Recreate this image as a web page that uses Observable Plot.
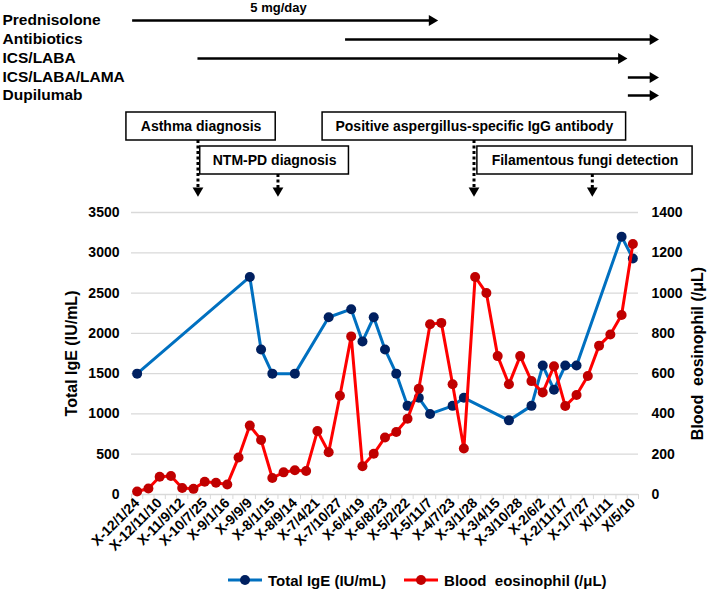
<!DOCTYPE html>
<html><head><meta charset="utf-8">
<script src="https://cdn.jsdelivr.net/npm/d3@7"></script>
<script src="https://cdn.jsdelivr.net/npm/@observablehq/plot@0.6"></script>
<style>
body{margin:0;background:#fff;font-family:"Liberation Sans",Arial,sans-serif;}
#chart{width:709px;}
svg{display:block;}
.legend{display:flex;align-items:center;height:24px;padding-left:228px;font-weight:bold;font-size:15px;white-space:pre;}
.legend .item{display:flex;align-items:center;}
</style></head><body><div id="chart"></div>
<script>
// ---- data ----
const xLabels = ["X-12/1/24","X-12/11/10","X-11/9/12","X-10/7/25","X-9/1/16","X-9/9/9","X-8/1/15","X-8/9/14","X-7/4/21","X-7/10/27","X-6/4/19","X-6/8/23","X-5/2/22","X-5/11/7","X-4/7/23","X-3/1/28","X-3/4/15","X-3/10/28","X-2/6/2","X-2/11/17","X-1/7/27","X/1/11","X/5/10"];
// Blood eosinophil (/µL) at each of the 45 visits
const eosVals = [15,30,88,92,32,28,63,58,50,184,342,271,82,110,120,117,315,210,490,785,140,202,283,310,376,525,845,852,547,228,1080,1000,687,547,687,563,506,637,439,494,588,739,794,891,1244];
// Total IgE (IU/mL): visit index and value
const igeIdx = [0,10,11,12,14,17,19,20,21,22,23,24,25,26,28,29,33,35,36,37,38,39,43,44];
const igeVals = [1500,2700,1800,1500,1500,2200,2300,1900,2200,1800,1500,1100,1200,1000,1100,1200,920,1100,1600,1300,1600,1600,3200,2930];
// treatments (start / end in visit units)
const treatments = ["Prednisolone","Antibiotics","ICS/LABA","ICS/LABA/LAMA","Dupilumab"];
const treatStart = [-0.4, 18.5, 5.4, 43.6, 43.6];
const treatEnd = [26.7, 46.3, 43.5, 46.3, 46.3];
const prednisoloneDose = "5 mg/day";
// events (visit position of each event)
const eventNames = ["Asthma diagnosis","NTM-PD diagnosis","Positive aspergillus-specific IgG antibody","Filamentous fungi detection"];
const eventIdx = [5.4, 12.5, 29.9, 40.4];
const seriesNames = ["Total IgE (IU/mL)", "Blood\u00a0 eosinophil (/\u03bcL)"];

// ---- layout / style ----
const FONT = "'Liberation Sans', Arial, sans-serif";
const ML = 131, MR = 71;
const XDOM = [-0.5, 44.5];
const SCALE = 2.5; // 1400 /µL  <-> 3500 IU/mL
const rowY = [20, 39, 58, 77, 95];
const boxLayout = [ // x extents in visit units, row 0/1
  {x1: -0.95, x2: 12.3, row: 0},
  {x1: 5.6, x2: 18.8, row: 1},
  {x1: 16.46, x2: 43.4, row: 0},
  {x1: 30.2, x2: 49.3, row: 1}
];
const boxRows = [[112, 140], [146, 174]];
const arrowTip = 196;

const treat = treatments.map((t, i) => ({t, s: treatStart[i], e: treatEnd[i], y: rowY[i]}));
const events = eventNames.map((n, i) => ({n, x: eventIdx[i], ...boxLayout[i],
  y1: boxRows[boxLayout[i].row][0], y2: boxRows[boxLayout[i].row][1]}));

const topPlot = Plot.plot({
  width: 709, height: 200, marginTop: 0, marginBottom: 0, marginLeft: ML, marginRight: MR,
  style: {fontFamily: FONT, fontWeight: "bold", color: "#000", background: "transparent", overflow: "visible"},
  x: {domain: XDOM, axis: null},
  y: {domain: [0, 200], range: [0, 200], axis: null},
  marks: [
    Plot.text(treat, {frameAnchor: "left", dx: -(ML - 2), y: "y", text: "t", textAnchor: "start", fontSize: 15.5}),
    Plot.ruleY(treat, {x1: "s", x2: "e", y: "y", stroke: "#000", strokeWidth: 2.5, insetRight: 4}),
    Plot.dot(treat, {x: "e", y: "y", symbol: "triangle", r: 4, rotate: 90, fill: "#000", stroke: "none", dx: -6}),
    Plot.text([prednisoloneDose], {x: 12.55, y: 7, fontSize: 13}),
    Plot.ruleX(events, {x: "x", y1: "y2", y2: arrowTip - 8, stroke: "#000", strokeWidth: 3, strokeDasharray: "3,2.5"}),
    Plot.dot(events, {x: "x", y: arrowTip, symbol: "triangle", r: 4, rotate: 180, fill: "#000", stroke: "none", dy: -6}),
    Plot.rect(events, {x1: "x1", x2: "x2", y1: "y1", y2: "y2", fill: "white", stroke: "#000", strokeWidth: 1.5}),
    Plot.text(events, {x: d => (d.x1 + d.x2) / 2, y: d => (d.y1 + d.y2) / 2, text: "n", fontSize: 14})
  ]
});

const ige = igeIdx.map((i, k) => ({i, v: igeVals[k]}));
const eos = eosVals.map((v, i) => ({i, v}));
const yTicks = d3.range(0, 3501, 500);

const mainPlot = Plot.plot({
  width: 709, height: 368, marginTop: 12, marginBottom: 74, marginLeft: ML, marginRight: MR,
  style: {fontFamily: FONT, fontSize: "14px", fontWeight: "bold", color: "#000", background: "transparent", overflow: "visible"},
  x: {domain: XDOM},
  y: {domain: [0, 3500]},
  marks: [
    Plot.gridY({ticks: yTicks.slice(1), stroke: "#d9d9d9", strokeOpacity: 1, strokeWidth: 1.3}),
    Plot.ruleY([0], {stroke: "#d9d9d9", strokeWidth: 1.3}),
    Plot.axisX({ticks: d3.range(-0.5, 45, 1), tickSize: 5, tickFormat: () => "", stroke: "#d9d9d9", strokeOpacity: 1, label: null}),
    Plot.axisX({ticks: d3.range(0, 45, 2), tickFormat: i => xLabels[i / 2], tickSize: 0, tickPadding: 6, tickRotate: -45, label: null, fontSize: 14}),
    Plot.axisY({ticks: yTicks, tickFormat: d => String(d), tickSize: 0, tickPadding: 12, label: null, fontSize: 14}),
    Plot.axisY({anchor: "right", ticks: yTicks, tickFormat: d => String(d / SCALE), tickSize: 0, tickPadding: 13, label: null, fontSize: 14}),
    Plot.text([seriesNames[0]], {frameAnchor: "left", dx: -60, rotate: -90, textAnchor: "middle", fontSize: 16}),
    Plot.text([seriesNames[1]], {frameAnchor: "right", dx: 59, rotate: -90, textAnchor: "middle", fontSize: 16}),
    Plot.line(ige, {x: "i", y: "v", stroke: "#0070C0", strokeWidth: 3}),
    Plot.dot(ige, {x: "i", y: "v", r: 5, fill: "#002060", stroke: "none"}),
    Plot.line(eos, {x: "i", y: d => d.v * SCALE, stroke: "#FF0000", strokeWidth: 3}),
    Plot.dot(eos, {x: "i", y: d => d.v * SCALE, r: 5, fill: "#C00000", stroke: "none"})
  ]
});

const chart = document.getElementById("chart");
chart.appendChild(topPlot);
chart.appendChild(mainPlot);

// legend
const legend = document.createElement("div");
legend.className = "legend";
const legendColors = [["#0070C0", "#002060"], ["#FF0000", "#C00000"]];
seriesNames.forEach((name, i) => {
  const item = document.createElement("div");
  item.className = "item";
  if (i > 0) item.style.marginLeft = "18px";
  item.innerHTML = `<svg width="34" height="12"><line x1="0" x2="34" y1="6" y2="6" stroke="${legendColors[i][0]}" stroke-width="3"/><circle cx="17" cy="6" r="5" fill="${legendColors[i][1]}"/></svg><span style="margin-left:6px">${name}</span>`;
  legend.appendChild(item);
});
chart.appendChild(legend);
</script>
</body></html>
